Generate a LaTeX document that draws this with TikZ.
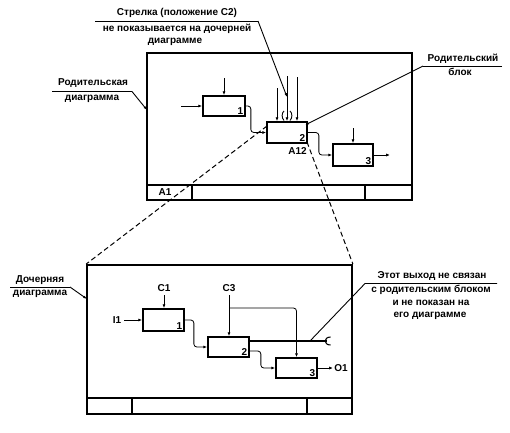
\documentclass[tikz,border=0pt]{standalone}
\usepackage{fontspec}
\setmainfont{Liberation Sans}
\usetikzlibrary{arrows.meta}
\begin{document}
\begin{tikzpicture}[x=1pt,y=-1pt,
  txt/.style={font=\fontsize{10}{11}\selectfont\bfseries, inner sep=0pt},
  num/.style={font=\fontsize{10}{11}\selectfont\bfseries, inner sep=0pt},
  frm/.style={draw, line width=1.8pt, inner sep=0pt},
  blk/.style={draw, line width=1.7pt, inner sep=0pt},
  thin/.style={line width=0.8pt},
  arr/.style={thin, -{Latex[length=3.8pt,width=3pt]}},
  lead/.style={line width=0.9pt},
  leadarr/.style={line width=0.9pt, -{Latex[length=3.8pt,width=2.6pt]}},
  dsh/.style={line width=1pt, dash pattern=on 5pt off 3pt},
  rc/.style={rounded corners=3pt}]
\useasboundingbox (0,0) rectangle (510,432);

% ---------- parent diagram ----------
\node[frm, minimum width=265pt, minimum height=147pt] (pf) at (279.5,126.5) {};
\draw[line width=1.8pt] (147,185) -- (412,185);
\draw[line width=1.8pt] (192,185) -- (192,200);
\draw[line width=1.8pt] (365,185) -- (365,200);
\node[txt] (a1) at (165,192.5) {A1};

\node[blk, minimum width=42pt, minimum height=20pt] (p1) at (224,106) {};
\node[blk, minimum width=40pt, minimum height=21pt] (p2) at (287,132.5) {};
\node[blk, minimum width=40pt, minimum height=22pt] (p3) at (353,155) {};
\node[num, anchor=south east] (p1n) at ([xshift=-2.5pt,yshift=2pt]p1.south east) {1};
\node[num, anchor=south east] (p2n) at ([xshift=-2.5pt,yshift=2pt]p2.south east) {2};
\node[num, anchor=south east] (p3n) at ([xshift=-2.5pt,yshift=2pt]p3.south east) {3};
\node[txt, anchor=north east] (a12) at ([xshift=-1pt,yshift=-3pt]p2.south east) {A12};

\coordinate (p1c) at (224,78);
\coordinate (p1i) at (181,106);
\draw[arr] (p1c) -- (p1.north);
\draw[arr] (p1i) -- (p1.west);
\draw[arr, rc] (p1.east) -- ++(5,0) |- (p2.west);

\coordinate (t1) at (277,88);
\coordinate (t2) at (287,76);
\coordinate (t3) at (297,77);
\draw[arr] (t1) -- (t1 |- p2.north);
\draw[arr] (t2) -- (t2 |- p2.north);
\draw[arr] (t3) -- (t3 |- p2.north);
\draw[line width=0.9pt] (284,111) .. controls (281.5,113) and (281.5,118) .. (284,120.5);
\draw[line width=0.9pt] (290,111) .. controls (292.5,113) and (292.5,118) .. (290,120.5);

\draw[arr, rc] (p2.east) -- ++(11,0) |- (p3.west);
\coordinate (p3c) at (353,128);
\coordinate (p3o) at (390,155);
\draw[arr] (p3c) -- (p3.north);
\draw[arr] (p3.east) -- (p3o);

% ---------- labels (parent) ----------
\node[txt] (l1a) at (177,13) {Стрелка (положение C2)};
\node[txt] (l1b) at (177,29) {не показывается на дочерней};
\node[txt] (l1c) at (175,42) {диаграмме};
\coordinate (u1a) at (95,21);
\coordinate (u1b) at (258,21);
\coordinate (e1) at (287,97);
\draw[lead] (u1a) -- (u1b);
\draw[leadarr] (u1b) -- (e1);

\node[txt] (l2a) at (93,83) {Родительская};
\node[txt] (l2b) at (92,99) {диаграмма};
\coordinate (u2a) at (52,91.5);
\coordinate (u2b) at (132,91.5);
\coordinate (e2) at (147,110);
\draw[lead] (u2a) -- (u2b);
\draw[leadarr] (u2b) -- (e2);

\node[txt] (l3a) at (463,59) {Родительский};
\node[txt] (l3b) at (460,72) {блок};
\coordinate (u3a) at (502,66);
\coordinate (u3b) at (423,66);
\coordinate (e3) at (305,125);
\draw[lead] (u3a) -- (u3b);
\draw[leadarr] (u3b) -- (e3);

% ---------- child diagram ----------
\node[frm, minimum width=265pt, minimum height=149pt] (cf) at (219.5,339.5) {};
\draw[line width=1.8pt] (87,398) -- (352,398);
\draw[line width=1.8pt] (132,398) -- (132,414);
\draw[line width=1.8pt] (307,398) -- (307,414);

% dashed decomposition lines
\coordinate (d1) at (267,126);
\coordinate (d2) at (307,142);
\draw[dsh] (d1) -- (cf.north west);
\draw[dsh] (d2) -- (cf.north east);

\node[blk, minimum width=41pt, minimum height=22pt] (c1) at (163.5,320) {};
\node[blk, minimum width=41pt, minimum height=20pt] (c2) at (228.5,347) {};
\node[blk, minimum width=41pt, minimum height=20pt] (c3) at (296.5,368) {};
\node[num, anchor=south east] (c1n) at ([xshift=-2.5pt,yshift=2pt]c1.south east) {1};
\node[num, anchor=south east] (c2n) at ([xshift=-2.5pt,yshift=2pt]c2.south east) {2};
\node[num, anchor=south east] (c3n) at ([xshift=-2.5pt,yshift=2pt]c3.south east) {3};

\node[txt] (lc1) at (164,288) {C1};
\node[txt] (lc3) at (229,288) {C3};
\node[txt] (li1) at (117,320) {I1};
\node[txt] (lo1) at (341,368.5) {O1};

\coordinate (c1top) at (164,295);
\draw[arr] (c1top) -- (c1top |- c1.north);
\draw[arr] (124,320) -- (c1.west);
\draw[arr, rc] (c1.east) -- ++(9,0) |- (c2.west);
\coordinate (c3top) at (229,295);
\coordinate (c3br) at (229,308);
\draw[arr] (c3top) -- (c3top |- c2.north);
\draw[arr, rc] (c3br) -| (c3.north);
\draw[arr, rc] ([yshift=-4pt]c2.east) -- ++(11,0) |- (c3.west);
\coordinate (o1e) at (333,368);
\draw[arr] (c3.east) -- (o1e);

% unconnected output with tunnel
\coordinate (tun) at (327,341);
\draw[line width=1.4pt] ([yshift=6pt]c2.east) -- (tun);
\draw[line width=1.1pt] (330.5,337) .. controls (323.5,337) and (323.5,345) .. (330.5,345);

% ---------- labels (child) ----------
\node[txt] (l4a) at (40,280) {Дочерняя};
\node[txt] (l4b) at (40,294) {диаграмма};
\coordinate (u4a) at (10,287);
\coordinate (u4b) at (70,287);
\coordinate (e4) at (87,299);
\draw[lead] (u4a) -- (u4b);
\draw[leadarr] (u4b) -- (e4);

\node[txt] (l5a) at (432,276) {Этот выход не связан};
\node[txt] (l5b) at (431,290) {с родительским блоком};
\node[txt] (l5c) at (431,303) {и не показан на};
\node[txt] (l5d) at (430,316) {его диаграмме};
\coordinate (u5a) at (497,283.5);
\coordinate (u5b) at (365,283.5);
\coordinate (e5) at (310,341);
\draw[lead] (u5a) -- (u5b) -- (e5);
\end{tikzpicture}
\end{document}
